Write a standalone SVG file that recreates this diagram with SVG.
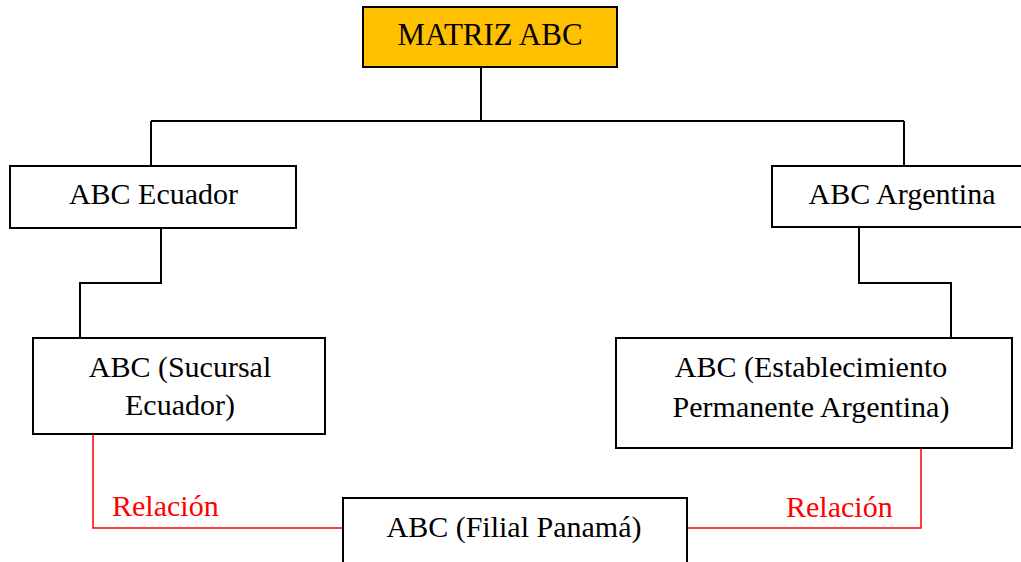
<svg xmlns="http://www.w3.org/2000/svg" width="1021" height="562" viewBox="0 0 1021 562">
  <style>
    .box { fill: #ffffff; stroke: #000000; stroke-width: 2; }
    .root { fill: #ffc000; stroke: #000000; stroke-width: 2; }
    .lbl { font-family: 'Liberation Serif', 'DejaVu Serif', serif; font-size: 30px; fill: #000000; text-anchor: middle; }
    .big { font-size: 31px; }
    .rel { font-family: 'Liberation Serif', 'DejaVu Serif', serif; font-size: 30px; fill: #ff0000; }
    .link { fill: none; stroke: #000000; stroke-width: 2; }
    .redlink { fill: none; stroke: #ff0000; stroke-width: 1.5; }
  </style>
  <rect width="1021" height="562" fill="#ffffff"/>

  <!-- connectors -->
  <g id="connectors">
    <path class="link" d="M481 67 V121"/>
    <path class="link" d="M151 121 H904"/>
    <path class="link" d="M151 121 V166"/>
    <path class="link" d="M904 121 V166"/>
    <path class="link" d="M161 228 V283 H80 V338"/>
    <path class="link" d="M859 227 V283 H951 V338"/>
    <path class="redlink" d="M93 434 V528 H343"/>
    <path class="redlink" d="M687 528 H921 V448"/>
    <text class="rel" x="112" y="516">Relación</text>
    <text class="rel" x="786" y="517">Relación</text>
  </g>

  <!-- nodes -->
  <g id="matriz">
    <rect class="root" x="363" y="7" width="254" height="60"/>
    <text class="lbl big" x="490" y="45">MATRIZ ABC</text>
  </g>
  <g id="ecuador">
    <rect class="box" x="10" y="166" width="286" height="62"/>
    <text class="lbl" x="153.5" y="204">ABC Ecuador</text>
  </g>
  <g id="argentina">
    <rect class="box" x="772" y="166" width="250" height="61"/>
    <text class="lbl" x="902" y="204">ABC Argentina</text>
  </g>
  <g id="sucursal-ecuador">
    <rect class="box" x="33" y="338" width="292" height="96"/>
    <text class="lbl" x="180" y="377">ABC (Sucursal</text>
    <text class="lbl" x="180" y="415">Ecuador)</text>
  </g>
  <g id="establecimiento-argentina">
    <rect class="box" x="616" y="338" width="396" height="110"/>
    <text class="lbl" x="811" y="377">ABC (Establecimiento</text>
    <text class="lbl" x="811" y="417">Permanente Argentina)</text>
  </g>
  <g id="filial-panama">
    <rect class="box" x="343" y="498" width="344" height="80"/>
    <text class="lbl" x="514" y="536.5">ABC (Filial Panamá)</text>
  </g>
</svg>
